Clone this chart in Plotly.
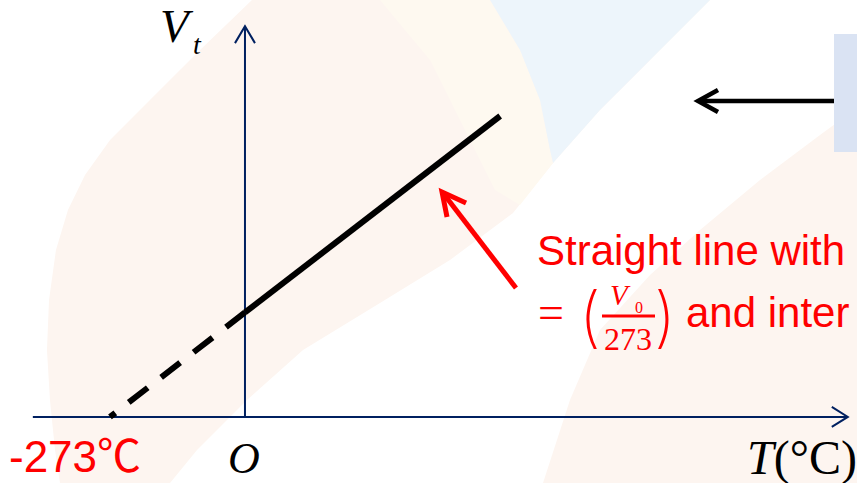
import plotly.graph_objects as go

W, H = 857, 483

# Charles's law: gas volume against Celsius temperature
temp_solid = [0, 516]          # measured region (degC)
vol_solid = [1.0, 2.88]        # V_t in units of V_0
temp_extrap = [0, -273]        # extrapolation down to absolute zero
vol_extrap = [1.0, 0.0]

x_range = [-495.4, 1237.6]
y_range = [-0.632, 3.990]
x_axis_span = [-429, 1219]
y_axis_top = 3.74

NAVY = "#002060"
RED = "#FF0000"
PEACH = "#FDF5F0"
CREAM = "#FEF9F0"
SKY = "#EDF5FB"
BOX = "#DAE3F3"


def px(x):
    return x / W


def py(y):
    return 1 - y / H


def poly(points, close=True):
    s = "M " + " L ".join(f"{px(x):.4f},{py(y):.4f}" for x, y in points)
    return s + (" Z" if close else "")


shapes = []

# soft background panels
warm = [(252, 0), (710, 0), (650, 60), (600, 110), (553, 163), (513, 213),
        (450, 260), (380, 303), (303, 350), (247, 400), (197, 450), (170, 483),
        (60, 483), (55, 450), (50, 400), (47, 350), (49, 300), (56, 250),
        (68, 210), (85, 175), (110, 140), (150, 100), (200, 50), (252, 0)]
cream = [(380, 0), (490, 0), (520, 50), (540, 100), (550, 150), (553, 163),
         (520, 205), (495, 190), (465, 130), (430, 60), (380, 0)]
sky = [(490, 0), (710, 0), (650, 60), (600, 110), (553, 163), (550, 150),
       (540, 100), (520, 50), (490, 0)]
corner = [(543, 483), (570, 400), (600, 330), (650, 275), (700, 230),
          (760, 180), (820, 135), (857, 108), (857, 483)]
for pts, col in [(warm, PEACH), (cream, CREAM), (sky, SKY), (corner, PEACH)]:
    shapes.append(dict(type="path", path=poly(pts), xref="paper", yref="paper",
                       fillcolor=col, line=dict(width=0), layer="below"))

# side box
shapes.append(dict(type="rect", x0=px(834), x1=px(860), y0=py(152), y1=py(34),
                   xref="paper", yref="paper", fillcolor=BOX,
                   line=dict(width=0), layer="below"))

# axes with open arrowheads
shapes.append(dict(type="line", x0=x_axis_span[0], x1=x_axis_span[1], y0=0, y1=0,
                   xref="x", yref="y", line=dict(color=NAVY, width=2), layer="below"))
shapes.append(dict(type="line", x0=0, x1=0, y0=0, y1=y_axis_top,
                   xref="x", yref="y", line=dict(color=NAVY, width=2), layer="below"))
shapes.append(dict(type="path", path="M -16,10 L 0,0 L -16,-10",
                   xsizemode="pixel", ysizemode="pixel",
                   xanchor=x_axis_span[1], yanchor=0, xref="x", yref="y",
                   line=dict(color=NAVY, width=2), layer="below"))
shapes.append(dict(type="path", path="M -10,-17 L 0,0 L 10,-17",
                   xsizemode="pixel", ysizemode="pixel",
                   xanchor=0, yanchor=y_axis_top, xref="x", yref="y",
                   line=dict(color=NAVY, width=2), layer="below"))

# red pointer to the line
shapes.append(dict(type="line", x0=px(516), y0=py(288), x1=px(443), y1=py(193),
                   xref="paper", yref="paper", line=dict(color=RED, width=5)))
shapes.append(dict(type="path", path=poly([(447, 217), (442, 192), (466, 203)], close=False),
                   xref="paper", yref="paper", line=dict(color=RED, width=5)))

# black pointer from the box
shapes.append(dict(type="line", x0=px(834), y0=py(101), x1=px(699), y1=py(101),
                   xref="paper", yref="paper", line=dict(color="black", width=4.5)))
shapes.append(dict(type="path", path=poly([(718, 90), (698, 101), (718, 112)], close=False),
                   xref="paper", yref="paper", line=dict(color="black", width=4.5)))

# fraction bar of V0/273
shapes.append(dict(type="line", x0=px(602), y0=py(316), x1=px(655), y1=py(316),
                   xref="paper", yref="paper", line=dict(color=RED, width=3)))

annotations = []
SERIF = "Liberation Serif, DejaVu Serif, serif"
SANS = "Liberation Sans, Arial, sans-serif"
THIN = "Inter, Liberation Sans, sans-serif"


def label(text, x, y, size, family, color="black", xanchor="left", weight=None):
    font = dict(size=size, family=family, color=color)
    if weight is not None:
        font["weight"] = weight
    annotations.append(dict(text=text, x=px(x), y=py(y), xref="paper", yref="paper",
                            xanchor=xanchor, yanchor="middle", showarrow=False,
                            font=font))


label("<i>V</i>", 158, 26, 47, SERIF)
label("<i>t</i>", 191, 45, 28, SERIF)
label("<i>O</i>", 244, 458, 44, SERIF, xanchor="center")
label("<i>T</i>(°C)", 745, 458, 48, SERIF)
label("-273℃", 75, 456, 44, "Liberation Sans Narrow, Liberation Sans, Noto Sans CJK SC",
      color=RED, xanchor="center")

label("Straight line with", 535, 250, 42, SANS, color=RED)
label("=", 551, 312, 46, SERIF, color=RED, xanchor="center")
label("(", 590, 316, 66, THIN, color=RED, xanchor="center", weight=200)
label(")", 665, 316, 66, THIN, color=RED, xanchor="center", weight=200)
label("<i>V</i>", 620, 295, 29, SERIF, color=RED, xanchor="center")
label("0", 639, 307, 16, SERIF, color=RED, xanchor="center")
label("273", 628, 339, 32, SERIF, color=RED, xanchor="center")
label("and inter", 684, 312, 42, SANS, color=RED)

fig = go.Figure()
fig.add_trace(go.Scatter(x=temp_solid, y=vol_solid, mode="lines",
                         line=dict(color="black", width=6), hoverinfo="skip"))
fig.add_trace(go.Scatter(x=temp_extrap, y=vol_extrap, mode="lines",
                         line=dict(color="black", width=6, dash="24px,17px"),
                         hoverinfo="skip"))

fig.update_layout(
    width=W, height=H, margin=dict(l=0, r=0, t=0, b=0),
    paper_bgcolor="white", plot_bgcolor="white", showlegend=False,
    xaxis=dict(range=x_range, visible=False, fixedrange=True),
    yaxis=dict(range=y_range, visible=False, fixedrange=True),
    shapes=shapes, annotations=annotations,
)

fig.write_html("out.html", config={"displayModeBar": False})
